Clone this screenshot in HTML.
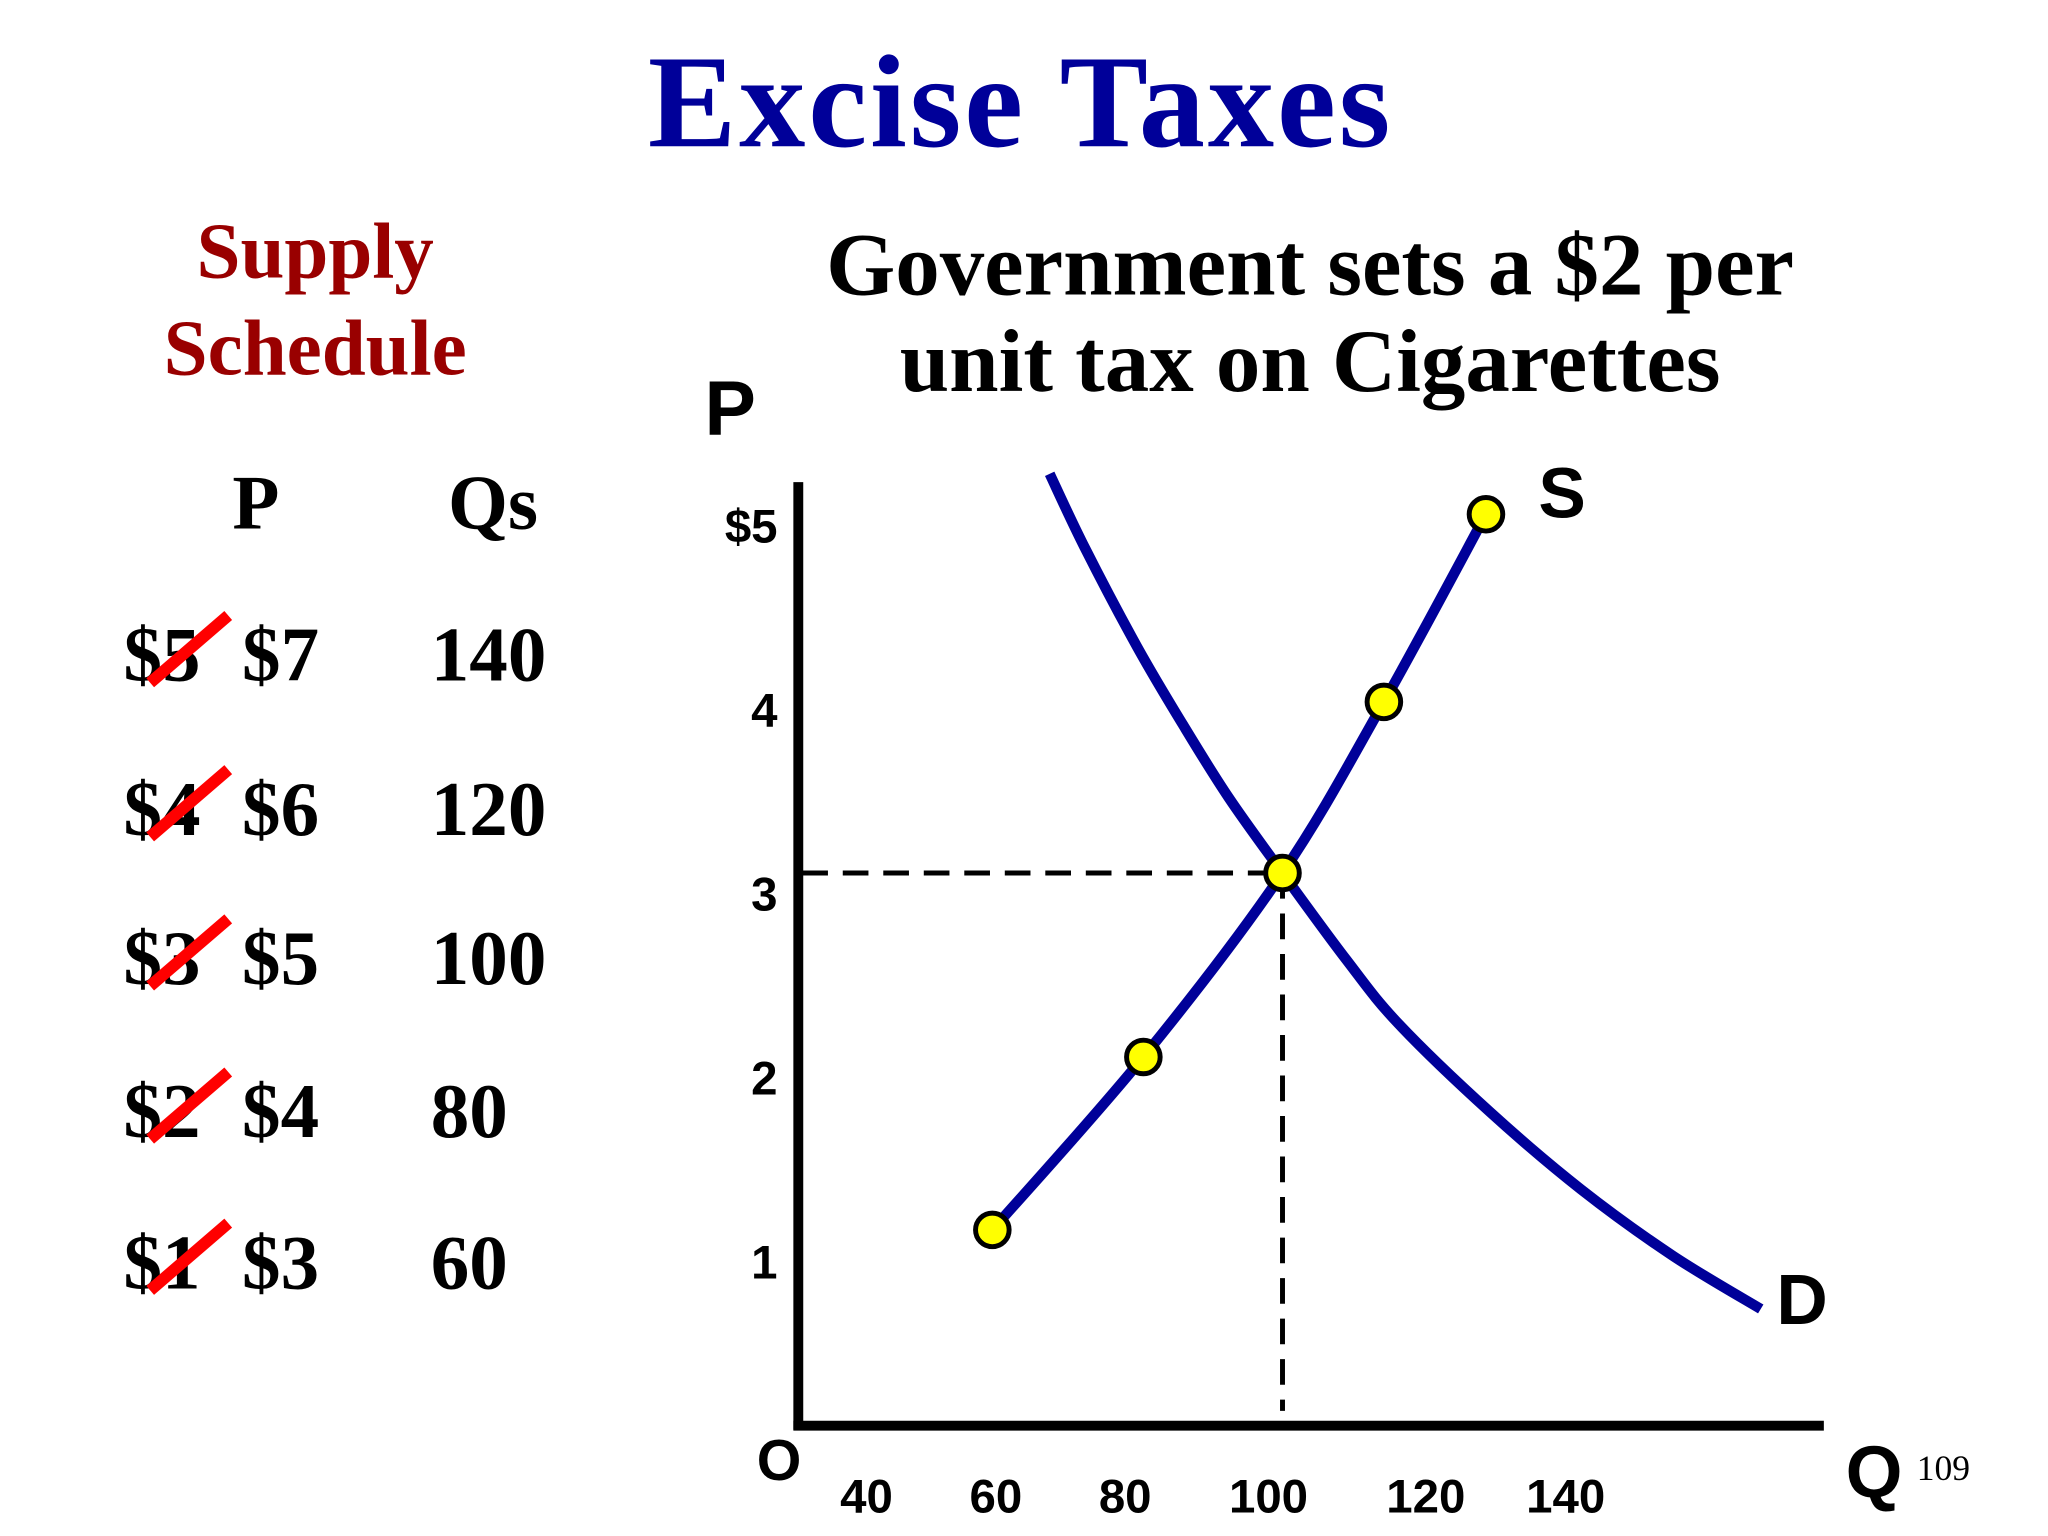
<!DOCTYPE html>
<html><head><meta charset="utf-8"><style>
html,body{margin:0;padding:0;background:#fff}
svg{display:block}
.tr{font-family:"Liberation Serif",serif;font-weight:bold}
.ar{font-family:"Liberation Sans",sans-serif;font-weight:bold}
</style></head><body>
<svg id="c" width="2048" height="1536" viewBox="0 0 2048 1536" xmlns="http://www.w3.org/2000/svg">
<g transform="scale(0.988)">
<text class="tr" x="1033" y="148" font-size="134" fill="#000099" text-anchor="middle" letter-spacing="3">Excise Taxes</text>
<text class="tr" x="319" y="281" font-size="80" fill="#990000" text-anchor="middle">Supply</text>
<text class="tr" x="319" y="379" font-size="80" fill="#990000" text-anchor="middle">Schedule</text>
<text class="tr" x="1326" y="298" font-size="90" fill="#000" text-anchor="middle">Government sets a $2 per</text>
<text class="tr" x="1326" y="396" font-size="90" fill="#000" text-anchor="middle">unit tax on Cigarettes</text>
<text class="tr" x="259" y="535" font-size="78" text-anchor="middle">P</text>
<text class="tr" x="499" y="535" font-size="78" text-anchor="middle">Qs</text>
<g id="table"></g>
<g id="chart"></g>
</g>
</svg>
<script>
const oldPrices=["$5","$4","$3","$2","$1"];
const newPrices=["$7","$6","$5","$4","$3"];
const qsValues=["140","120","100","80","60"];
const yTickVals=[5,4,3,2,1];
const yTickLabels=["$5","4","3","2","1"];
const xTickVals=[40,58.5,77,97.5,120,140];
const xTickLabels=["40","60","80","100","120","140"];
const supplyQ=[58,79.6,99.5,114,128.6];
const supplyP=[1.06,2.0,3.0,3.93,4.95];
const demandQ=[66.2,71.2,78.7,85.2,91.8,99.5,108.6,116.1,129.2,142.2,155.3,167.9];
const demandP=[5.17,4.77,4.23,3.81,3.41,3.0,2.53,2.18,1.70,1.28,0.92,0.63];
const eqQ=99.5, eqP=3;

const NS="http://www.w3.org/2000/svg";
function mk(tag,attrs,parent,txt){const e=document.createElementNS(NS,tag);for(const k in attrs)e.setAttribute(k,attrs[k]);if(txt!==undefined)e.textContent=txt;parent.appendChild(e);return e;}
const X=q=>877+(q-40)*7.077;
const Y=p=>1442.2-186.2*p;

const tb=document.getElementById('table');
const rowY=[689,845,996,1151,1304];
oldPrices.forEach((o,i)=>{
  let t=mk('text',{x:125,y:rowY[i],'font-size':78,class:'tr'},tb,o);
  
  
  let s=mk('line',{x1:152,y1:rowY[i]+2,x2:231,y2:rowY[i]-66,stroke:'#ff0000','stroke-width':12},tb);
  
  
  let n=mk('text',{x:245,y:rowY[i],'font-size':78,class:'tr'},tb,newPrices[i]);
  
  
  let q=mk('text',{x:436,y:rowY[i],'font-size':78,class:'tr'},tb,qsValues[i]);
  
  
});

const g=document.getElementById('chart');
let e;
e=mk('text',{x:713,y:440,'font-size':78,class:'ar'},g,'P');


e=mk('text',{x:766,y:1498,'font-size':58,class:'ar'},g,'O');


e=mk('text',{x:1868,y:1515,'font-size':74,class:'ar'},g,'Q');


e=mk('text',{x:1940,y:1498,'font-size':36,'font-family':'Liberation Serif, serif'},g,'109');



yTickVals.forEach((v,i)=>{
  let t=mk('text',{x:787,y:Y(v)+38,'font-size':48,class:'ar','text-anchor':'end'},g,yTickLabels[i]);
  
  
});
xTickVals.forEach((v,i)=>{
  let t=mk('text',{x:X(v),y:1531,'font-size':48,class:'ar','text-anchor':'middle'},g,xTickLabels[i]);
  
  
});

e=mk('line',{x1:808,y1:488,x2:808,y2:1447,stroke:'#000','stroke-width':10},g);


e=mk('line',{x1:803,y1:1443,x2:1846,y2:1443,stroke:'#000','stroke-width':10},g);



e=mk('line',{x1:812,y1:Y(eqP),x2:X(eqQ),y2:Y(eqP),stroke:'#000','stroke-width':5,'stroke-dasharray':'26 15'},g);


e=mk('line',{x1:X(eqQ),y1:Y(eqP),x2:X(eqQ),y2:1428,stroke:'#000','stroke-width':5,'stroke-dasharray':'26 15'},g);



function pathFrom(qs,ps){
  const pts=qs.map((q,i)=>[X(q),Y(ps[i])]);
  let d='M'+pts[0][0]+','+pts[0][1];
  for(let i=0;i<pts.length-1;i++){
    const p0=pts[Math.max(i-1,0)],p1=pts[i],p2=pts[i+1],p3=pts[Math.min(i+2,pts.length-1)];
    d+=' C'+(p1[0]+(p2[0]-p0[0])/6)+','+(p1[1]+(p2[1]-p0[1])/6)+' '+(p2[0]-(p3[0]-p1[0])/6)+','+(p2[1]-(p3[1]-p1[1])/6)+' '+p2[0]+','+p2[1];
  }
  return d;
}
e=mk('path',{d:pathFrom(demandQ,demandP),fill:'none',stroke:'#000099','stroke-width':10.5},g);


e=mk('path',{d:pathFrom(supplyQ,supplyP),fill:'none',stroke:'#000099','stroke-width':10.5},g);


supplyQ.forEach((q,i)=>{
  let c=mk('circle',{cx:X(q),cy:Y(supplyP[i]),r:17,fill:'#ffff00',stroke:'#000','stroke-width':5},g);
  
  
});
e=mk('text',{x:1557,y:524,'font-size':72,class:'ar'},g,'S');


e=mk('text',{x:1798,y:1340,'font-size':72,class:'ar'},g,'D');


</script>
</body></html>
